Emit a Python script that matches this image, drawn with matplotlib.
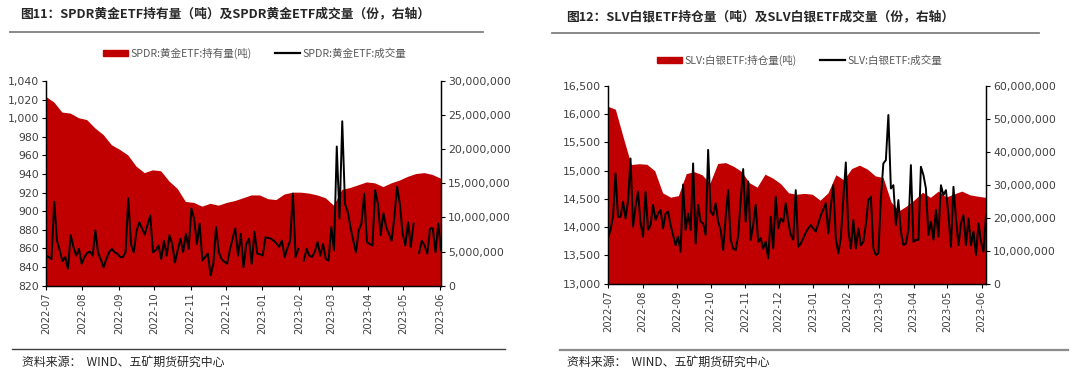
import matplotlib
matplotlib.use("Agg")
import matplotlib.pyplot as plt
import matplotlib.dates as mdates
from matplotlib.ticker import FuncFormatter, MultipleLocator
from matplotlib.lines import Line2D
from matplotlib.patches import Patch
import numpy as np
import pandas as pd

plt.rcParams["font.family"] = ["DejaVu Sans", "Noto Sans CJK SC"]
CJK = ["Noto Sans CJK SC", "DejaVu Sans"]

RED = "#C00000"
TXT = "#404040"

# ===== DATA =====
# 图11: SPDR 黄金ETF, weekly holdings (吨) and volume (百万份, ~every 2 trading days)
gold_start, gold_end = "2022-07-01", "2023-06-02"
gold_hold = [1023, 1017, 1006, 1005, 1000, 998, 989, 982, 971, 966,
             960, 948, 941, 944, 943, 932, 924, 910, 909, 905,
             908, 906, 909, 911, 914, 917, 917, 913, 912, 918,
             920, 920, 919, 917, 914, 906, 923, 925, 928, 931,
             930, 926, 930, 933, 937, 940, 941, 939, 935]
gold_vol_mn = [4.4, 4.2, 3.9, 12.3, 6.6, 5.2, 3.6, 4.2, 2.5, 7.4,
               5.7, 4.4, 5.4, 3.2, 4.2, 4.8, 5.0, 4.4, 8.1, 4.8,
               3.8, 2.7, 3.9, 4.9, 5.4, 4.9, 4.7, 4.2, 4.2, 4.9,
               12.8, 6.0, 4.9, 8.0, 9.3, 8.4, 7.5, 8.9, 10.3, 4.9,
               5.2, 5.9, 3.9, 6.6, 4.4, 7.4, 6.1, 3.4, 5.2, 6.9,
               4.9, 7.6, 5.4, 11.3, 9.8, 6.1, 9.1, 3.7, 4.2, 4.7,
               1.5, 3.2, 8.6, 4.9, 3.9, 3.5, 3.2, 5.2, 6.9, 8.4,
               4.4, 7.6, 2.7, 6.1, 6.9, 3.2, 7.9, 4.7, 4.6, 4.4,
               7.1, 7.0, 6.9, 6.6, 6.2, 5.7, 6.6, 4.2, 5.5, 6.6,
               13.5, 4.2, 5.4, np.nan, 3.7, 5.4, 4.4, 4.2, 5.0, 6.4,
               4.4, 6.1, 3.9, 3.7, 8.6, 5.2, 20.4, 9.8, 24.1, 12.0,
               10.8, 8.6, 6.6, 4.9, 8.1, 9.1, 13.5, 6.4, 6.1, 5.9,
               14.0, 12.0, 7.4, 10.6, 8.6, 7.6, 6.6, 10.1, 14.5, 12.0,
               7.6, 5.9, 9.3, 5.7, 9.1, np.nan, 4.8, 6.6, 5.9, 4.7,
               8.4, 8.4, 4.9, 9.1, 5.2]

# 图12: SLV 白银ETF
silver_start, silver_end = "2022-07-01", "2023-06-05"
silver_hold = [16134, 16080, 15580, 15101, 15115, 15105, 14990, 14600, 14523, 14550,
               14940, 14975, 14920, 14770, 15120, 15135, 15070, 14980, 14780, 14700,
               14930, 14860, 14760, 14600, 14575, 14590, 14575, 14470, 14600, 14920,
               14830, 15030, 15090, 15020, 14900, 14870, 14440, 14280, 14370, 14480,
               14610, 14520, 14630, 14525, 14580, 14630, 14565, 14540, 14520]
silver_vol_mn = [14.0, 16.3, 20.3, 33.5, 20.3, 20.3, 24.9, 19.8, 25.1, 38.0,
                 17.3, 23.4, 27.9, 18.3, 14.3, 27.9, 16.3, 17.8, 23.9, 19.3,
                 21.3, 22.4, 16.8, 21.3, 21.9, 17.8, 14.8, 11.7, 14.3, 9.7,
                 30.1, 16.3, 21.3, 16.3, 36.5, 12.2, 23.9, 18.8, 18.3, 14.8,
                 40.6, 21.9, 20.8, 24.4, 18.8, 16.3, 10.2, 20.3, 28.4, 13.3,
                 10.7, 10.2, 14.5, 25.4, 34.8, 18.8, 31.0, 13.3, 17.8, 23.9,
                 12.7, 13.8, 10.7, 12.7, 7.7, 20.3, 10.7, 26.4, 16.8, 19.8,
                 18.8, 24.4, 18.8, 14.8, 13.3, 28.4, 11.2, 12.2, 13.8, 15.5,
                 16.8, 17.8, 16.8, 15.8, 18.3, 20.8, 22.5, 24.4, 15.3, 23.4,
                 29.9, 13.8, 9.2, 13.8, 25.9, 36.8, 16.3, 10.7, 19.3, 10.7,
                 16.8, 11.7, 12.7, 18.0, 25.4, 26.4, 10.7, 8.7, 9.2, 25.9,
                 36.5, 37.5, 51.2, 28.9, 29.9, 17.8, 25.4, 15.8, 11.7, 12.2,
                 16.3, 36.0, 12.7, 13.3, 13.3, 35.5, 33.0, 28.9, 14.8, 18.8,
                 13.3, 22.4, 14.3, 29.9, 26.9, 28.4, 20.8, 11.2, 29.4, 19.8,
                 11.7, 18.3, 20.8, 11.7, 19.8, 11.7, 15.8, 8.7, 18.3, 12.7,
                 9.7, 20.8]

source_text = "资料来源：  WIND、五矿期货研究中心"


def draw_panel(fig, rect, start, end, hold, vol_mn, left_lim, left_step,
               right_lim, right_step, labels, legend_xy):
    hold_dates = pd.date_range(start, end, periods=len(hold))
    vol_dates = pd.date_range(start, end, periods=len(vol_mn))
    vol = np.array(vol_mn) * 1e6

    ax = fig.add_axes(rect)
    ax.fill_between(hold_dates, 0, hold, color=RED, lw=0)
    ax.set_ylim(*left_lim)
    ax.yaxis.set_major_locator(MultipleLocator(left_step))
    ax.yaxis.set_major_formatter(FuncFormatter(lambda v, _: f"{v:,.0f}"))
    ax.set_xlim(pd.Timestamp(start), pd.Timestamp(end))
    ax.xaxis.set_major_locator(mdates.MonthLocator())
    ax.xaxis.set_major_formatter(mdates.DateFormatter("%Y-%m"))
    ax.tick_params(axis="x", rotation=90, labelsize=7.2, length=3,
                   labelcolor=TXT, pad=2)
    ax.tick_params(axis="y", labelsize=7.8, length=3, labelcolor=TXT, pad=2)

    ax2 = ax.twinx()
    ax2.plot(vol_dates, vol, color="black", lw=1.4)
    ax2.set_ylim(*right_lim)
    ax2.yaxis.set_major_locator(MultipleLocator(right_step))
    ax2.yaxis.set_major_formatter(FuncFormatter(lambda v, _: f"{v:,.0f}"))
    ax2.tick_params(axis="y", labelsize=7.8, length=3, labelcolor=TXT, pad=2)
    ax2.set_xlim(pd.Timestamp(start), pd.Timestamp(end))

    for a in (ax, ax2):
        a.spines["top"].set_visible(False)
        for s in ("left", "right", "bottom"):
            a.spines[s].set_color("black")
            a.spines[s].set_linewidth(0.9)

    handles = [Patch(facecolor=RED, edgecolor=RED),
               Line2D([0], [0], color="black", lw=1.6)]
    leg = fig.legend(handles, labels, loc="center", bbox_to_anchor=legend_xy,
                     ncol=2, frameon=False, handlelength=2.3, handleheight=0.45,
                     columnspacing=2.2, handletextpad=0.3,
                     prop={"family": CJK, "size": 7.6})
    for t in leg.get_texts():
        t.set_color("#595959")
    return ax, ax2


fig = plt.figure(figsize=(10.8, 3.75), dpi=100)

draw_panel(fig, [46 / 1080, 1 - 285.7 / 375, 395 / 1080, 204.7 / 375],
           gold_start, gold_end, gold_hold, gold_vol_mn,
           (820, 1040), 20, (0, 30e6), 5e6,
           ["SPDR:黄金ETF:持有量(吨)", "SPDR:黄金ETF:成交量"],
           (255 / 1080, 1 - 53 / 375))

draw_panel(fig, [608 / 1080, 1 - 283.7 / 375, 378 / 1080, 197.7 / 375],
           silver_start, silver_end, silver_hold, silver_vol_mn,
           (13000, 16500), 500, (0, 60e6), 10e6,
           ["SLV:白银ETF:持仓量(吨)", "SLV:白银ETF:成交量"],
           (800 / 1080, 1 - 60 / 375))

# titles, rules and sources
fig.text(20 / 1080, 1 - 14 / 375, "图11：SPDR黄金ETF持有量（吨）及SPDR黄金ETF成交量（份，右轴）",
         family=CJK, fontsize=9.2, weight="bold", color="#262626", va="center")
fig.text(566 / 1080, 1 - 17 / 375, "图12：SLV白银ETF持仓量（吨）及SLV白银ETF成交量（份，右轴）",
         family=CJK, fontsize=9.2, weight="bold", color="#262626", va="center")

fig.add_artist(Line2D([10 / 1080, 483 / 1080], [1 - 32 / 375] * 2,
                      transform=fig.transFigure, color="#7f7f7f", lw=1.3))
fig.add_artist(Line2D([552 / 1080, 1039 / 1080], [1 - 33 / 375] * 2,
                      transform=fig.transFigure, color="#7f7f7f", lw=1.3))
fig.add_artist(Line2D([12 / 1080, 505 / 1080], [1 - 349 / 375] * 2,
                      transform=fig.transFigure, color="#404040", lw=1.0))
fig.add_artist(Line2D([560 / 1080, 1068 / 1080], [1 - 350 / 375] * 2,
                      transform=fig.transFigure, color="#8c8c8c", lw=1.6))

fig.text(22 / 1080, 1 - 362 / 375, source_text, family=CJK, fontsize=8.6,
         color="#262626", va="center")
fig.text(567 / 1080, 1 - 362 / 375, source_text, family=CJK, fontsize=8.6,
         color="#262626", va="center")

fig.savefig("out.png", dpi=100)
